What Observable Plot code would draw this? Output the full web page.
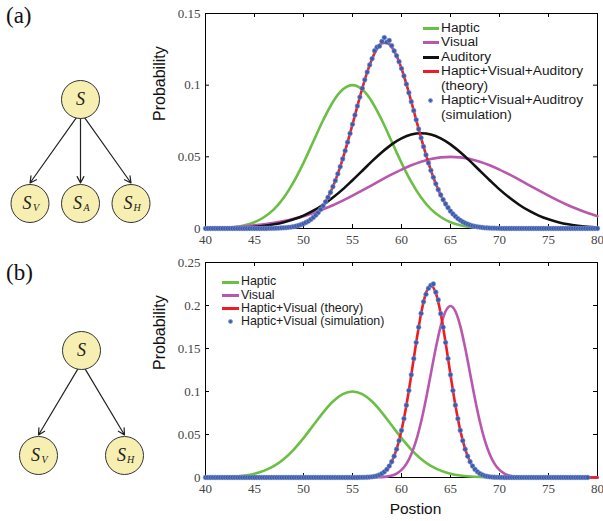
<!DOCTYPE html>
<html>
<head>
<meta charset="utf-8">
<script src="https://cdn.jsdelivr.net/npm/d3@7"></script>
<script src="https://cdn.jsdelivr.net/npm/@observablehq/plot@0.6"></script>
<style>
html,body{margin:0;padding:0;background:#fff;}
#page{position:relative;width:603px;height:521px;overflow:hidden;background:#fff;}
#page svg{position:absolute;overflow:visible;}
.panel-label{position:absolute;font-family:"Liberation Serif",serif;font-size:23px;line-height:1;color:#111;}
.legend{position:absolute;font-family:"Liberation Sans",Arial,sans-serif;color:#1a1a1a;}
g[aria-label="x-axis tick label"], g[aria-label="y-axis tick label"]{color:#444;font-family:"Liberation Serif",serif;font-size:13px;}
</style>
</head>
<body>
<div id="page"></div>
<script>
// ---------------- data ----------------
const xTicks = [40, 45, 50, 55, 60, 65, 70, 75, 80];
const yTicksA = [0, 0.05, 0.1, 0.15];
const yTicksB = [0, 0.05, 0.1, 0.15, 0.2, 0.25];
const xStart = 40;
const coarseStep = 1;   // Haptic / Visual(a) / Auditory samples
const fineStep = 0.5;   // theory curves and Visual(b)
const simStep = 0.25;   // simulation points

// panel (a) curves, x = 40..80 step 1
const hapticA = [0.0001,0.0002,0.0005,0.0011,0.0023,0.0044,0.0080,0.0135,0.0216,0.0325,
  0.0458,0.0607,0.0755,0.0883,0.0969,0.1000,0.0969,0.0883,0.0755,0.0607,
  0.0458,0.0325,0.0216,0.0135,0.0080,0.0044,0.0023,0.0011,0.0005,0.0002,
  0.0001,0,0,0,0,0,0,0,0,0,0];
const visualA = [0.0004,0.0006,0.0008,0.0011,0.0016,0.0022,0.0030,0.0040,0.0052,0.0068,
  0.0086,0.0108,0.0134,0.0162,0.0194,0.0229,0.0266,0.0303,0.0341,0.0377,
  0.0411,0.0441,0.0466,0.0485,0.0496,0.0500,0.0496,0.0485,0.0466,0.0441,
  0.0411,0.0377,0.0341,0.0303,0.0266,0.0229,0.0194,0.0162,0.0134,0.0108,0.0086];
const auditoryA = [0.0001,0.0002,0.0003,0.0004,0.0007,0.0012,0.0019,0.0029,0.0044,0.0064,
  0.0090,0.0124,0.0166,0.0216,0.0273,0.0337,0.0403,0.0470,0.0532,0.0587,
  0.0629,0.0656,0.0665,0.0656,0.0629,0.0587,0.0532,0.0470,0.0403,0.0337,
  0.0273,0.0216,0.0166,0.0124,0.0090,0.0064,0.0044,0.0029,0.0019,0.0012,0.0007];
// panel (a) combined theory, x = 40..80 step 0.5
const theoryA = [0,0,0,0,0,0,0,0,0,0,0,0,
  0,0.0001,0.0001,0.0003,0.0005,0.0008,0.0013,0.0021,0.0033,0.0051,
  0.0077,0.0111,0.0158,0.0217,0.0292,0.0381,0.0485,0.0602,0.0727,0.0854,
  0.0978,0.1091,0.1185,0.1254,0.1292,0.1296,0.1266,0.1205,0.1116,0.1007,
  0.0885,0.0758,0.0632,0.0513,0.0405,0.0312,0.0234,0.0171,0.0121,0.0084,
  0.0057,0.0037,0.0024,0.0015,0.0009,0.0005,0.0003,0.0002,0.0001,
  0,0,0,0,0,0,0,0,0,0,0,0,0,0,0,0,0,0,0,0];
// panel (a) simulation, x = 40..80 step 0.25
const simA = [0,0,0,0,0,0,0,0,0,0, 0,0,0,0,0,0,0,0,0,0, 0,0,0,0,0,0,
  0.0001,0.0001,
  0.0001,0.0002,0.0003,0.0004,
  0.0005,0.0006,0.0008,0.0010,
  0.0013,0.0017,0.0021,0.0027,
  0.0033,0.0042,0.0051,0.0063,
  0.0077,0.0093,0.0111,0.0133,
  0.0158,0.0186,0.0217,0.0252,
  0.0292,0.0334,0.0381,0.0431,
  0.0485,0.0542,0.0602,0.0663,
  0.0727,0.0791,0.0854,0.0917,
  0.0978,0.1037,0.1091,0.1141,
  0.1185,0.1240,0.1265,0.1272,
  0.1305,0.1332,0.1300,0.1312,
  0.1275,0.1239,0.1205,0.1164,
  0.1116,0.1064,0.1007,0.0947,
  0.0885,0.0822,0.0758,0.0694,
  0.0632,0.0571,0.0513,0.0457,
  0.0405,0.0357,0.0312,0.0271,
  0.0234,0.0201,0.0171,0.0145,
  0.0121,0.0101,0.0084,0.0069,
  0.0057,0.0046,0.0037,0.0030,
  0.0024,0.0019,0.0015,0.0012,
  0.0009,0.0007,0.0005,0.0004,
  0.0003,0.0002,0.0002,0.0001,
  0.0001,
  0,0,0,0,0,0,0,0,0,0, 0,0,0,0,0,0,0,0,0,0, 0,0,0,0,0,0,0,0,0,0, 0,0,0,0,0,0,0,0,0,0];

// panel (b) curves
const hapticB = [0.0001,0.0002,0.0005,0.0011,0.0023,0.0044,0.0080,0.0135,0.0216,0.0325,
  0.0458,0.0607,0.0755,0.0883,0.0969,0.1000,0.0969,0.0883,0.0755,0.0607,
  0.0458,0.0325,0.0216,0.0135,0.0080,0.0044,0.0023,0.0011,0.0005,0.0002,
  0.0001,0,0,0,0,0,0,0,0,0,0];
// x = 40..80 step 0.5
const visualB = [0,0,0,0,0,0,0,0,0,0, 0,0,0,0,0,0,0,0,0,0, 0,0,0,0,0,0,0,0,0,0, 0,0,0,
  0.0000,0.0001,0.0002,0.0004,0.0010,0.0022,0.0046,0.0088,0.0159,0.0270,
  0.0431,0.0648,0.0913,0.1210,0.1506,0.1760,0.1933,0.1995,0.1933,0.1760,
  0.1506,0.1210,0.0913,0.0648,0.0431,0.0270,0.0159,0.0088,0.0046,0.0022,
  0.0010,0.0004,0.0002,0.0001,0.0000,
  0,0,0,0,0,0,0,0,0,0,0,0,0];
const theoryB = [0,0,0,0,0,0,0,0,0,0, 0,0,0,0,0,0,0,0,0,0, 0,0,0,0,0,0,0,0,0,0, 0,0,
  0.0001,0.0003,0.0008,0.0020,0.0045,0.0094,0.0183,0.0329,0.0547,0.0840,
  0.1194,0.1569,0.1908,0.2145,0.2230,0.2145,0.1908,0.1569,0.1194,0.0840,
  0.0547,0.0329,0.0183,0.0094,0.0045,0.0020,0.0008,0.0003,0.0001,
  0,0,0,0,0,0,0,0,0,0,0,0,0,0,0,0,0,0,0,0];
// x = 40..79 step 0.25
const simB = [0,0,0,0,0,0,0,0,0,0, 0,0,0,0,0,0,0,0,0,0, 0,0,0,0,0,0,0,0,0,0,
  0,0,0,0,0,0,0,0,0,0, 0,0,0,0,0,0,0,0,0,0, 0,0,0,0,0,0,0,0,0,0, 0,0,
  0.0000,0.0001,
  0.0001,0.0002,0.0003,0.0005,
  0.0008,0.0013,0.0020,0.0030,
  0.0045,0.0066,0.0094,0.0133,
  0.0183,0.0248,0.0329,0.0428,
  0.0547,0.0684,0.0840,0.1011,
  0.1194,0.1382,0.1569,0.1747,
  0.1908,0.2043,0.2130,0.2200,
  0.2235,0.2250,0.2155,0.2065,
  0.1905,0.1747,0.1569,0.1382,
  0.1194,0.1011,0.0840,0.0684,
  0.0547,0.0428,0.0329,0.0248,
  0.0183,0.0133,0.0094,0.0066,
  0.0045,0.0030,0.0020,0.0013,
  0.0008,0.0005,0.0003,0.0002,
  0.0001,0.0001,0.0000,
  0,0,0,0,0,0,0,0,0,0, 0,0,0,0,0,0,0,0,0,0, 0,0,0,0,0,0,0,0,0,0, 0,0,0,0];

// graphical models
const nodesA = [
  {name: "S", sub: "", level: 0, slot: 0},
  {name: "S", sub: "V", level: 1, slot: -1},
  {name: "S", sub: "A", level: 1, slot: 0},
  {name: "S", sub: "H", level: 1, slot: 1}
];
const edgesA = [{from: 0, to: 1}, {from: 0, to: 2}, {from: 0, to: 3}];
const nodesB = [
  {name: "S", sub: "", level: 0, slot: 0},
  {name: "S", sub: "V", level: 1, slot: -1},
  {name: "S", sub: "H", level: 1, slot: 1}
];
const edgesB = [{from: 0, to: 1}, {from: 0, to: 2}];

// legends
const C = {haptic: "#6cbf45", visual: "#b957ae", auditory: "#111111", theory: "#ee1c24", simFill: "#3c5bad", simStroke: "#8ea3d9"};
const legendA = [
  {label: "Haptic", type: "line", color: C.haptic},
  {label: "Visual", type: "line", color: C.visual},
  {label: "Auditory", type: "line", color: C.auditory},
  {label: "Haptic+Visual+Auditory\n(theory)", type: "line", color: C.theory},
  {label: "Haptic+Visual+Auditroy\n(simulation)", type: "dot"}
];
const legendB = [
  {label: "Haptic", type: "line", color: C.haptic},
  {label: "Visual", type: "line", color: C.visual},
  {label: "Haptic+Visual (theory)", type: "line", color: C.theory},
  {label: "Haptic+Visual (simulation)", type: "dot"}
];

// ---------------- drawing ----------------
const page = document.getElementById("page");
const toXY = (arr, step) => arr.map((y, i) => ({x: xStart + i * step, y}));
const SERIF = "Liberation Serif, serif";
const SANS = "Liberation Sans, Arial, sans-serif";

function chart({yDomain, yTicks, curves, sim, top, height, marginBottom, xLabel}) {
  const W = 453, mL = 55, mR = 6, mT = 13;
  const frameH = height - mT - marginBottom, frameW = W - mL - mR, tk = 4;
  const marks = [
    Plot.ruleX(xTicks, {x: d => d, insetTop: frameH - tk, stroke: "#000"}),
    Plot.ruleX(xTicks, {x: d => d, insetBottom: frameH - tk, stroke: "#000"}),
    Plot.ruleY(yTicks, {y: d => d, insetRight: frameW - tk, stroke: "#000"}),
    Plot.ruleY(yTicks, {y: d => d, insetLeft: frameW - tk, stroke: "#000"}),
    Plot.frame({stroke: "#000", strokeWidth: 1}),
    Plot.axisX({ticks: xTicks, tickSize: 0, tickPadding: 6, label: null, tickFormat: d => String(d), fontFamily: SERIF, fontSize: 13}),
    Plot.axisY({ticks: yTicks, tickSize: 0, tickPadding: 5, label: null, tickFormat: d => String(d), fontFamily: SERIF, fontSize: 13}),
    ...curves.map(c => Plot.line(c.data, {x: "x", y: "y", stroke: c.color, strokeWidth: 2.6, curve: "monotone-x"})),
    Plot.dot(sim, {x: "x", y: "y", r: 2.4, fill: C.simFill, stroke: C.simStroke, strokeWidth: 0.5}),
    Plot.text(["Probability"], {frameAnchor: "left", rotate: -90, dx: -46, text: d => d, lineAnchor: "middle",
      fontFamily: SANS, fontSize: 16, fill: "#111"})
  ];
  if (xLabel) marks.push(Plot.text([xLabel], {frameAnchor: "bottom", dy: 31.5, dx: 14, text: d => d, lineAnchor: "middle",
      fontFamily: SANS, fontSize: 15.5, fill: "#111"}));
  const svg = Plot.plot({
    width: W, height, marginLeft: mL, marginRight: mR, marginTop: mT, marginBottom,
    x: {domain: [40, 80]},
    y: {domain: yDomain},
    style: {fontFamily: SERIF, fontSize: "13px", background: "transparent", color: "#000"},
    marks
  });
  svg.style.left = "150px";
  svg.style.top = top + "px";
  page.appendChild(svg);
}

function diagram({nodes, edges, xRange, yRange, top}) {
  const r = 19;
  const span = yRange[1] - yRange[0];
  const svg = Plot.plot({
    width: 150, height: 250, margin: 0,
    x: {domain: [-1, 1], range: xRange, axis: null},
    y: {domain: [0, 1], range: yRange, axis: null},
    style: {background: "transparent"},
    marks: [
      Plot.arrow(edges, {
        x1: d => nodes[d.from].slot, y1: d => nodes[d.from].level + 0.65 * r / span,
        x2: d => nodes[d.to].slot, y2: d => nodes[d.to].level - (r + 1.5) / span,
        stroke: "#222", strokeWidth: 1.2, headLength: 9, headAngle: 55
      }),
      Plot.dot(nodes, {x: "slot", y: "level", r, fill: "#f7efb2", stroke: "#333", strokeWidth: 1}),
      Plot.text(nodes.filter(d => !d.sub), {x: "slot", y: "level", text: "name", fontStyle: "italic",
        fontFamily: SERIF, fontSize: 18, fill: "#222", lineAnchor: "middle"}),
      Plot.text(nodes.filter(d => d.sub), {x: "slot", y: "level", text: "name", dx: -3, fontStyle: "italic",
        fontFamily: SERIF, fontSize: 18, fill: "#222", lineAnchor: "middle"}),
      Plot.text(nodes.filter(d => d.sub), {x: "slot", y: "level", text: "sub", dx: 6, dy: 4, fontStyle: "italic",
        fontFamily: SERIF, fontSize: 10, fill: "#222", lineAnchor: "middle"})
    ]
  });
  svg.style.left = "0px";
  svg.style.top = top + "px";
  page.appendChild(svg);
}

function legend(items, {left, top, lineHeight, fontSize, swatchW, gap}) {
  const div = document.createElement("div");
  div.className = "legend";
  div.style.cssText = `left:${left}px;top:${top}px;font-size:${fontSize}px;line-height:${lineHeight}px;`;
  for (const it of items) {
    const row = document.createElement("div");
    row.style.cssText = `position:relative;padding-left:${swatchW + gap}px;white-space:pre;`;
    const sw = document.createElement("span");
    if (it.type === "line") {
      sw.style.cssText = `position:absolute;left:0;top:${lineHeight / 2 - 1.5}px;width:${swatchW}px;height:3px;background:${it.color};`;
    } else {
      sw.style.cssText = `position:absolute;left:${swatchW / 2 - 3}px;top:${lineHeight / 2 - 3}px;width:5px;height:5px;box-sizing:border-box;border-radius:50%;background:${C.simFill};border:1px solid ${C.simStroke};`;
    }
    row.append(sw, document.createTextNode(it.label));
    div.appendChild(row);
  }
  page.appendChild(div);
}

function panelLabel(text, left, top) {
  const d = document.createElement("div");
  d.className = "panel-label";
  d.style.left = left + "px";
  d.style.top = top + "px";
  d.textContent = text;
  page.appendChild(d);
}

// panel (a)
panelLabel("(a)", 6, 4);
diagram({nodes: nodesA, edges: edgesA, xRange: [29.5, 130.5], yRange: [99, 203], top: 0});
chart({
  yDomain: [0, 0.15], yTicks: yTicksA, top: 0, height: 255, marginBottom: 27,
  curves: [
    {data: toXY(hapticA, coarseStep), color: C.haptic},
    {data: toXY(visualA, coarseStep), color: C.visual},
    {data: toXY(auditoryA, coarseStep), color: C.auditory},
    {data: toXY(theoryA, fineStep), color: C.theory}
  ],
  sim: toXY(simA, simStep)
});
legend(legendA, {left: 423, top: 20.75, lineHeight: 14.5, fontSize: 13.7, swatchW: 16, gap: 2});

// panel (b)
panelLabel("(b)", 6, 261);
diagram({nodes: nodesB, edges: edgesB, xRange: [38, 124], yRange: [95, 200], top: 255});
chart({
  yDomain: [0, 0.25], yTicks: yTicksB, top: 249, height: 272, marginBottom: 44, xLabel: "Postion",
  curves: [
    {data: toXY(hapticB, coarseStep), color: C.haptic},
    {data: toXY(visualB, fineStep), color: C.visual},
    {data: toXY(theoryB, fineStep), color: C.theory}
  ],
  sim: toXY(simB, simStep)
});
legend(legendB, {left: 222, top: 275.4, lineHeight: 13.3, fontSize: 12.4, swatchW: 17, gap: 2});
</script>
</body>
</html>
